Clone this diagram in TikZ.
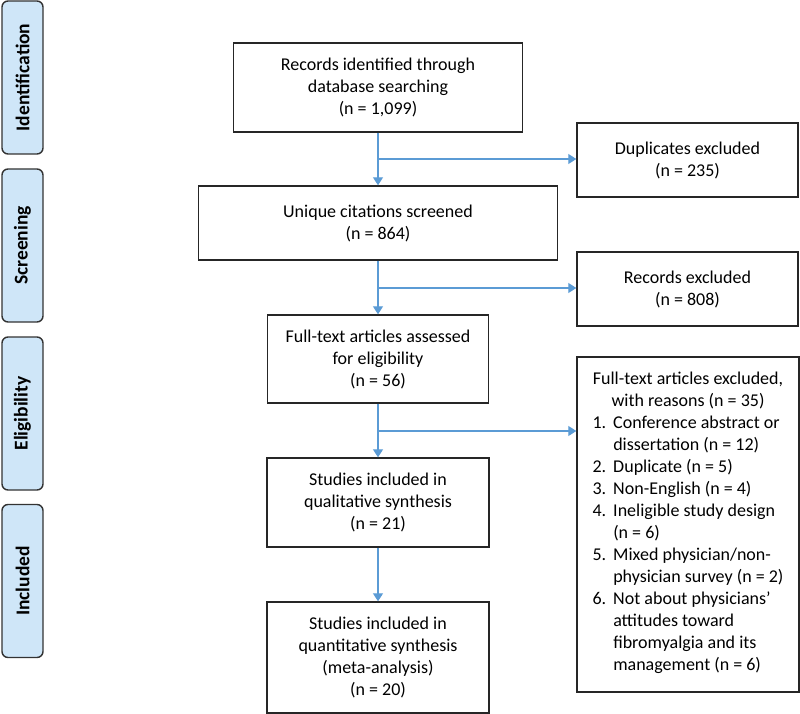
\documentclass[tikz,border=0pt]{standalone}
\usepackage{fontspec}
\setmainfont{Carlito}
\usetikzlibrary{arrows.meta}
\definecolor{stagefill}{RGB}{207,230,248}
\definecolor{arrowblue}{RGB}{91,155,213}

\begin{document}
\begin{tikzpicture}[x=1pt, y=-1pt,
  every node/.style={font=\fontsize{18}{22}\selectfont},
  stage/.style={draw=black!80, line width=1.4pt, rounded corners=6pt, fill=stagefill, rotate=90, minimum width=153pt, minimum height=41pt, inner sep=0pt, font=\fontsize{19.5}{22}\selectfont\bfseries},
  box/.style={draw=black!85, line width=1.4pt, align=center, inner sep=0pt},
  arr/.style={-{Triangle[length=8pt,width=10pt]}, line width=1.3pt, arrowblue}
]
\useasboundingbox (0,0) rectangle (800,714);

% Stages on the left
\node[stage] (ident)  at (22.5,77.5) {Identification};
\node[stage] (screen) at (22.5,245.5) {Screening};
\node[stage] (elig)   at (22.5,413.5) {Eligibility};
\node[stage] (incl)   at (22.5,581) {Included};

% Main column
\node[box, minimum width=289pt, minimum height=89pt] (rec) at (378,87.5) {Records identified through\\database searching\\(n = 1,099)};
\node[box, minimum width=359pt, minimum height=74pt] (uniq) at (378,223) {Unique citations screened\\(n = 864)};
\node[box, minimum width=221pt, minimum height=88pt] (full) at (378,359) {Full-text articles assessed\\for eligibility\\(n = 56)};
\node[box, minimum width=222pt, minimum height=89pt] (qual) at (378,502.5) {Studies included in\\qualitative synthesis\\(n = 21)};
\node[box, minimum width=222pt, minimum height=111pt] (quant) at (378,657.5) {Studies included in\\quantitative synthesis\\(meta-analysis)\\(n = 20)};

% Exclusions
\node[box, minimum width=221pt, minimum height=74pt] (dup) at (687.5,160) {Duplicates excluded\\(n = 235)};
\node[box, minimum width=221pt, minimum height=74pt] (rexcl) at (687.5,289) {Records excluded\\(n = 808)};
\node[box, minimum width=222pt, minimum height=335pt] (ftexcl) at (688,524.5) {Full-text articles excluded,\\with reasons (n = 35)\\
\begin{tabular}[t]{@{}l@{\hspace{7pt}}l@{}}
1. & Conference abstract or\\
   & dissertation (n = 12)\\
2. & Duplicate (n = 5)\\
3. & Non-English (n = 4)\\
4. & Ineligible study design\\
   & (n = 6)\\
5. & Mixed physician/non-\\
   & physician survey (n = 2)\\
6. & Not about physicians’\\
   & attitudes toward\\
   & fibromyalgia and its\\
   & management (n = 6)
\end{tabular}};

% Branch points
\coordinate (b1) at (378,159);
\coordinate (b2) at (378,288);
\coordinate (b3) at (378,431);

% Arrows
\draw[arr] (rec) -- (uniq);
\draw[arr] (uniq) -- (full);
\draw[arr] (full) -- (qual);
\draw[arr] (qual) -- (quant);
\draw[arr] (b1) -- (b1 -| dup.west);
\draw[arr] (b2) -- (b2 -| rexcl.west);
\draw[arr] (b3) -- (b3 -| ftexcl.west);
\end{tikzpicture}
\end{document}
